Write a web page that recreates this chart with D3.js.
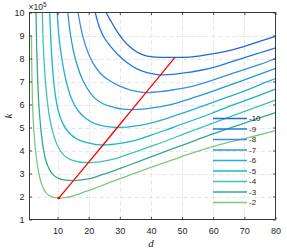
<!DOCTYPE html>
<html>
<head>
<meta charset="utf-8">
<script src="https://cdn.jsdelivr.net/npm/d3@7"></script>
<style>
  body { margin: 0; background: #fff; }
  svg { display: block; }
</style>
</head>
<body>
<script>
// contour levels, top of legend first
var levels = [-10, -9, -8, -7, -6, -5, -4, -3, -2];
var colors = ['#1f66d6', '#1f78e2', '#3a8ce2', '#2498da', '#22b0d6', '#16b8c8', '#3cc4b4', '#36aa88', '#80c880'];

// each curve: [d, k (x1e5)]
var c10 = [[25.6,10],[27,9.66],[29,9.2],[31.2,8.79],[33.3,8.5],[35.5,8.28],[37.7,8.15],[40,8.08],[43.5,8.05],[47.7,8.05],[53.2,8.07],[59.7,8.2],[66.1,8.38],[72.5,8.64],[80,8.96]];
var c9 = [[22.1,10],[23.5,9.35],[25.1,8.88],[26.9,8.55],[29.5,8.15],[32.5,7.8],[35.5,7.55],[38.5,7.4],[41,7.32],[43.1,7.29],[47,7.31],[52.1,7.4],[56.5,7.5],[61.1,7.65],[65.5,7.84],[70.1,8.04],[75,8.25],[80,8.46]];
var c8 = [[16.6,10],[17.8,9.15],[19.4,8.4],[21.4,7.8],[23.8,7.35],[26.9,7.02],[30,6.8],[33.5,6.63],[36,6.56],[38.4,6.52],[42,6.55],[46.4,6.62],[50.4,6.71],[54.4,6.83],[58.4,6.99],[62.4,7.18],[66.4,7.36],[70.4,7.54],[75,7.74],[80,8.0]];
var c7 = [[13.3,10],[14.2,9.0],[15.5,8.1],[17.2,7.35],[19.3,6.75],[21.8,6.3],[24.8,6.02],[28,5.88],[31,5.8],[33.9,5.78],[37.4,5.8],[40.9,5.86],[44.4,5.94],[47.9,6.05],[51.4,6.2],[54.9,6.35],[61.9,6.68],[68.9,7.02],[75.9,7.36],[80,7.57]];
var c6 = [[9.9,10],[10.5,8.9],[11.5,7.9],[12.8,7.0],[14.5,6.25],[16.5,5.75],[19,5.4],[22,5.17],[25.5,5.05],[29.2,5.0],[32.2,5.02],[35.2,5.07],[38.2,5.14],[41.2,5.23],[44.2,5.35],[47.2,5.49],[53.2,5.77],[59.2,6.06],[65.2,6.35],[71.2,6.65],[77.2,6.98],[80,7.13]];
var c5 = [[7.5,10],[7.85,8.8],[8.4,7.6],[9.1,6.6],[10.1,5.8],[11.6,5.2],[13.6,4.78],[16.2,4.5],[19.2,4.35],[22,4.27],[24.6,4.24],[27.1,4.26],[29.6,4.3],[34.6,4.43],[39.6,4.65],[44.6,4.88],[49.6,5.13],[54.6,5.37],[59.6,5.62],[64.6,5.89],[69.6,6.14],[74.6,6.39],[80,6.67]];
var c4 = [[5.1,10],[5.4,8.7],[5.9,7.4],[6.6,6.3],[7.5,5.4],[8.7,4.7],[10.2,4.15],[12,3.8],[14.2,3.6],[17,3.5],[19.9,3.47],[23.9,3.52],[27.9,3.62],[31.9,3.8],[35.9,3.98],[39.9,4.18],[43.9,4.37],[51.9,4.79],[59.9,5.19],[67.9,5.59],[80,6.19]];
var c3 = [[3.1,10],[3.3,8.5],[3.6,7.2],[4,6.0],[4.6,5.0],[5.3,4.2],[6.2,3.6],[7.3,3.2],[8.7,2.93],[10.5,2.78],[12.7,2.71],[15.1,2.69],[18.1,2.73],[21.1,2.8],[24.1,2.94],[27.1,3.07],[30.1,3.22],[33.1,3.37],[39.1,3.68],[45.1,3.98],[51.1,4.28],[60.1,4.73],[69.1,5.15],[80,5.65]];
var c2 = [[1.62,9.0],[1.75,7.5],[1.95,6.2],[2.25,5.2],[2.7,4.35],[3.3,3.6],[4,3.0],[5,2.5],[6.2,2.18],[7.6,2.02],[9,1.95],[10.4,1.93],[12.4,1.95],[14.4,2.0],[16.4,2.09],[18.4,2.19],[20.4,2.28],[22.4,2.38],[26.4,2.59],[30.4,2.79],[34.4,2.99],[40.4,3.29],[46.4,3.57],[52.4,3.85],[60.4,4.19],[70.4,4.53],[80,4.86]];
var curves = [c10, c9, c8, c7, c6, c5, c4, c3, c2];

// minima of the curves (red line)
var minD = [10.4, 15.1, 19.9, 24.6, 29.2, 33.9, 38.4, 43.1, 47.7];
var minK = [1.93, 2.69, 3.47, 4.24, 5.0, 5.78, 6.52, 7.29, 8.05];

var xTicks = [10, 20, 30, 40, 50, 60, 70, 80];
var yTicks = [1, 2, 3, 4, 5, 6, 7, 8, 9, 10];

var W = 287, H = 248;
var L = 29.5, R = 275.5, T = 12.5, B = 219.5;
var axisCol = '#262626';
var font = '"Liberation Sans", Arial, sans-serif';

var x = d3.scaleLinear().domain([1, 80]).range([L, R]);
var y = d3.scaleLinear().domain([1, 10]).range([B, T]);

var svg = d3.select('body').append('svg').attr('width', W).attr('height', H);
svg.append('rect').attr('width', W).attr('height', H).attr('fill', '#fff');

svg.append('clipPath').attr('id', 'plot')
  .append('rect').attr('x', L).attr('y', T).attr('width', R - L).attr('height', B - T);

// grid
var grid = svg.append('g').attr('stroke', '#dedede').attr('stroke-width', 0.8).attr('stroke-dasharray', '4,3');
grid.selectAll('.gx').data(xTicks.filter(function (d) { return d < 80; })).enter().append('line')
  .attr('x1', function (d) { return Math.round(x(d)) + 0.5; })
  .attr('x2', function (d) { return Math.round(x(d)) + 0.5; })
  .attr('y1', T).attr('y2', B);
grid.selectAll('.gy').data(yTicks.filter(function (d) { return d > 1 && d < 10; })).enter().append('line')
  .attr('y1', function (d) { return Math.round(y(d)) + 0.5; })
  .attr('y2', function (d) { return Math.round(y(d)) + 0.5; })
  .attr('x1', L).attr('x2', R);

// contour curves
var line = d3.line()
  .x(function (p) { return x(p[0]); })
  .y(function (p) { return y(p[1]); })
  .curve(d3.curveCatmullRom.alpha(0.5));

svg.append('g').attr('clip-path', 'url(#plot)')
  .selectAll('path').data(curves).enter().append('path')
  .attr('d', line)
  .attr('fill', 'none')
  .attr('stroke', function (d, i) { return colors[i]; })
  .attr('stroke-width', 1.3);

// red line through the minima
svg.append('path')
  .attr('d', d3.line().x(function (d, i) { return x(minD[i]); }).y(function (d, i) { return y(minK[i]); })(minD))
  .attr('fill', 'none').attr('stroke', '#ff0000').attr('stroke-width', 1.3);
svg.append('circle').attr('cx', x(minD[0])).attr('cy', y(minK[0])).attr('r', 1.4).attr('fill', '#ff0000');

// axes
function styleAxis(g) {
  g.select('.domain').remove();
  g.selectAll('line').attr('stroke', axisCol).attr('stroke-width', 0.8);
  g.selectAll('text').attr('fill', axisCol).attr('font-family', font).attr('font-size', '9px');
}
svg.append('g').attr('transform', 'translate(0,' + B + ')')
  .call(d3.axisBottom(x).tickValues(xTicks).tickSize(-2.5).tickSizeOuter(0).tickPadding(8))
  .call(styleAxis);
svg.append('g').attr('transform', 'translate(0,' + T + ')')
  .call(d3.axisTop(x).tickValues(xTicks).tickSize(-2.5).tickSizeOuter(0).tickFormat(''))
  .call(styleAxis);
svg.append('g').attr('transform', 'translate(' + L + ',0)')
  .call(d3.axisLeft(y).tickValues(yTicks).tickSize(-2.5).tickSizeOuter(0).tickPadding(5))
  .call(styleAxis);
svg.append('g').attr('transform', 'translate(' + R + ',0)')
  .call(d3.axisRight(y).tickValues(yTicks).tickSize(-2.5).tickSizeOuter(0).tickFormat(''))
  .call(styleAxis);

svg.append('rect').attr('x', L).attr('y', T).attr('width', R - L).attr('height', B - T)
  .attr('fill', 'none').attr('stroke', axisCol).attr('stroke-width', 0.9);

// exponent label
var ex = svg.append('text').attr('x', L - 1).attr('y', 10).attr('fill', axisCol)
  .attr('font-family', font).attr('font-size', '8.5px');
ex.append('tspan').text('\u00d710');
ex.append('tspan').attr('dy', -3.5).attr('font-size', '6.5px').text('5');

// axis labels
svg.append('text').attr('x', 151).attr('y', 246.5).attr('text-anchor', 'middle')
  .attr('font-family', '"Liberation Serif", "Times New Roman", serif').attr('font-style', 'italic')
  .attr('font-size', '11px').attr('fill', axisCol).text('d');
svg.append('text').attr('transform', 'translate(11.5,' + ((T + B) / 2) + ') rotate(-90)')
  .attr('text-anchor', 'middle')
  .attr('font-family', '"Liberation Serif", "Times New Roman", serif').attr('font-style', 'italic')
  .attr('font-size', '11px').attr('fill', axisCol).text('k');

// legend
var lg = svg.append('g').selectAll('g').data(levels).enter().append('g')
  .attr('transform', function (d, i) { return 'translate(0,' + (118.5 + i * 10.5) + ')'; });
lg.append('line').attr('x1', 213).attr('x2', 247).attr('y1', 0).attr('y2', 0)
  .attr('stroke', function (d, i) { return colors[i]; }).attr('stroke-width', 1.3);
lg.append('text').attr('x', 249).attr('y', 0).attr('dy', '0.35em')
  .attr('font-family', font).attr('font-size', '8px').attr('fill', axisCol)
  .text(function (d) { return d; });
</script>
</body>
</html>
